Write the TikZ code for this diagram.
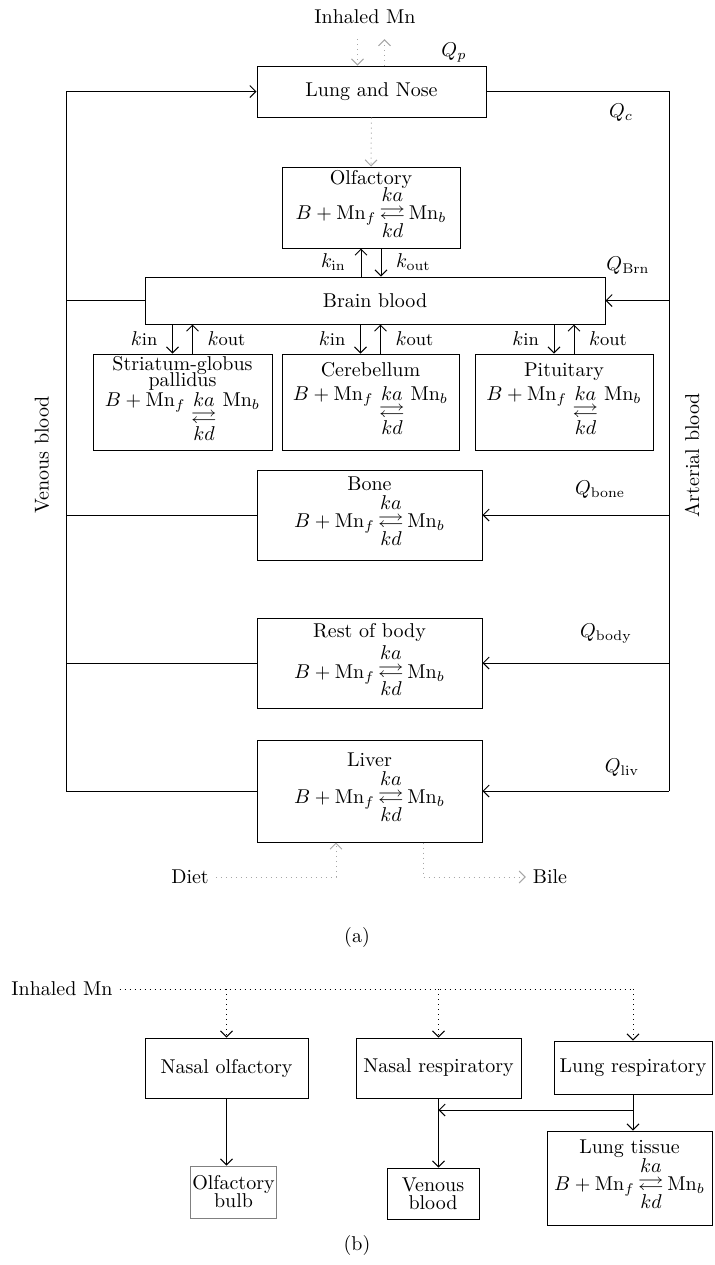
\documentclass[tikz,border=0pt]{standalone}
\usepackage{amsmath}
\usepackage{amssymb}
\usepackage{graphicx}
\usepackage{tikz}
\usetikzlibrary{arrows.meta}

\newcommand{\eqarrows}{\scalebox{1.3}[1]{$\rightleftarrows$}}
\newcommand{\rxn}{$B+\mathrm{Mn}_f\,\begin{tabular}{@{}c@{}}$ka$\\[-3pt]\eqarrows\\[-3pt]$kd$\end{tabular}\,\mathrm{Mn}_b$}
\newcommand{\rxnlow}{$B+\mathrm{Mn}_f\;\begin{tabular}[t]{@{}c@{}}$ka$\\[-3.5pt]\eqarrows\\[-3.5pt]$kd$\end{tabular}\;\mathrm{Mn}_b$}

\begin{document}
\begin{tikzpicture}[x=0.5pt, y=-0.5pt, font=\fontsize{10}{12}\selectfont,
    box/.style={draw, line width=0.5pt, align=center, inner sep=1pt},
    bloodline/.style={line width=0.5pt},
    bloodflow/.style={line width=0.5pt, -{Straight Barb[length=3pt,width=6pt]}},
    dietflow/.style={gray!70, dotted, line width=0.5pt, -{Straight Barb[length=3pt,width=6pt]}},
    inhaled/.style={dotted, line width=0.5pt, -{Straight Barb[length=3pt,width=6pt]}}]
    \useasboundingbox (0,0) rectangle (715,1265);

    % (a) compartments
    \node[box, minimum width=114.5pt, minimum height=25.5pt] (lung) at (371.5,91.5) {Lung and Nose};
    \node[box, minimum width=89pt, minimum height=40.5pt, inner sep=0pt] (olf) at (371,207.5) {Olfactory\\[-3pt]\rxn};
    \node[box, minimum width=230pt, minimum height=23.5pt] (brain) at (375,300.5) {Brain blood};
    \node[box, minimum width=89.5pt, minimum height=48pt] (str) at (182.5,402) {Striatum-globus\\[-4pt]pallidus\\[-2pt]\rxnlow};
    \node[box, minimum width=88.5pt, minimum height=48pt] (cer) at (370.5,402) {Cerebellum\\\rxnlow};
    \node[box, minimum width=89pt, minimum height=48pt] (pit) at (564,402) {Pituitary\\\rxnlow};
    \node[box, minimum width=112.5pt, minimum height=45pt] (bone) at (369.5,515) {Bone\\\rxn};
    \node[box, minimum width=112.5pt, minimum height=45pt] (body) at (369.5,663) {Rest of body\\\rxn};
    \node[box, minimum width=112.5pt, minimum height=51pt] (liver) at (369.5,791) {Liver\\\rxn};

    % venous and arterial sides
    \coordinate (venL) at (66,0);
    \coordinate (artR) at (669,0);
    \node[rotate=90] (venlab) at (42,455) {Venous blood};
    \node[rotate=90] (artlab) at (692,455) {Arterial blood};
    \draw[bloodline] (venL |- liver.west) -- (venL |- lung.west);
    \draw[bloodflow] (venL |- lung.west) -- (lung.west);
    \foreach \b in {brain, bone, body, liver}
        \draw[bloodline] (\b.west) -- (venL |- \b.west);
    \draw[bloodline] (lung.east) -- (artR |- lung.east) -- (artR |- liver.east);
    \foreach \b in {brain, bone, body, liver}
        \draw[bloodflow] (artR |- \b.east) -- (\b.east);

    % flows
    \node (qp) at (454,53) {$Q_p$};
    \node (qc) at (621,113) {$Q_c$};
    \node (qbrn) at (628,266) {$Q_{\mathrm{Brn}}$};
    \node (qbone) at (600,490) {$Q_{\mathrm{bone}}$};
    \node (qbody) at (606,634) {$Q_{\mathrm{body}}$};
    \node (qliv) at (622,768) {$Q_{\mathrm{liv}}$};

    % exchange with brain blood
    \coordinate (olf-in) at ([xshift=-5pt]olf.south);
    \coordinate (olf-out) at ([xshift=5pt]olf.south);
    \draw[bloodflow] (olf-in |- brain.north) -- (olf-in) node[midway, left=4pt] {$k_{\mathrm{in}}$};
    \draw[bloodflow] (olf-out) -- (olf-out |- brain.north) node[midway, right=4pt] {$k_{\mathrm{out}}$};
    \foreach \b in {str, cer, pit} {
        \coordinate (\b-in) at ([xshift=-5pt]\b.north);
        \coordinate (\b-out) at ([xshift=5pt]\b.north);
        \draw[bloodflow] (\b-in |- brain.south) -- (\b-in) node[midway, left=4pt] {$k$\small in};
        \draw[bloodflow] (\b-out) -- (\b-out |- brain.south) node[midway, right=4pt] {$k$\small out};
    }

    % inhalation, diet and bile
    \node (inhtop) at (365,17) {Inhaled Mn};
    \coordinate (lung-in) at ([xshift=-7pt]lung.north);
    \coordinate (lung-ex) at ([xshift=6.5pt]lung.north);
    \draw[dietflow, shorten <=4pt] (lung-in |- inhtop.south) -- (lung-in);
    \draw[dietflow, shorten >=4pt] (lung-ex) -- (lung-ex |- inhtop.south);
    \draw[dietflow] (lung.south) -- (olf.north);
    \node (diet) at (190,877) {Diet};
    \node (bile) at (550,877) {Bile};
    \draw[dietflow] (diet.east) -| ([xshift=-16.75pt]liver.south);
    \draw[dietflow] ([xshift=26.75pt]liver.south) |- (bile.west);
    \node (capa) at (357,937) {(a)};

    % (b) nasal and lung uptake
    \node (inh) at (62,989) {Inhaled Mn};
    \node[box, minimum width=81.5pt, minimum height=30pt] (nolf) at (226.5,1068) {Nasal olfactory};
    \node[box, minimum width=82.5pt, minimum height=30pt] (nresp) at (438.5,1068) {Nasal respiratory};
    \node[box, minimum width=79pt, minimum height=26.5pt] (lresp) at (633,1067.5) {Lung respiratory};
    \node[box, draw=gray, minimum width=40.5pt, minimum height=26pt] (bulb) at (233.5,1192) {Olfactory\\[-3pt]bulb};
    \node[box, minimum width=46pt, minimum height=25.5pt] (venous) at (433,1193.5) {Venous\\[-3pt]blood};
    \node[box, minimum width=82.5pt, minimum height=47pt] (ltis) at (629.5,1178) {Lung tissue\\[-2pt]\rxn};
    \draw[dotted, line width=0.5pt] (inh.east) -- (lresp.north |- inh.east);
    \foreach \b in {nolf, nresp, lresp}
        \draw[inhaled] (\b.north |- inh.east) -- (\b.north);
    \draw[bloodflow] (nolf.south) -- (nolf.south |- bulb.north);
    \draw[bloodflow] (nresp.south) -- (nresp.south |- venous.north);
    \coordinate (junc) at (633,1110);
    \draw[bloodflow] (lresp.south) -- (lresp.south |- ltis.north);
    \draw[bloodflow] (junc) -- (nresp.south |- junc);
    \node (capb) at (357,1245) {(b)};
\end{tikzpicture}
\end{document}
